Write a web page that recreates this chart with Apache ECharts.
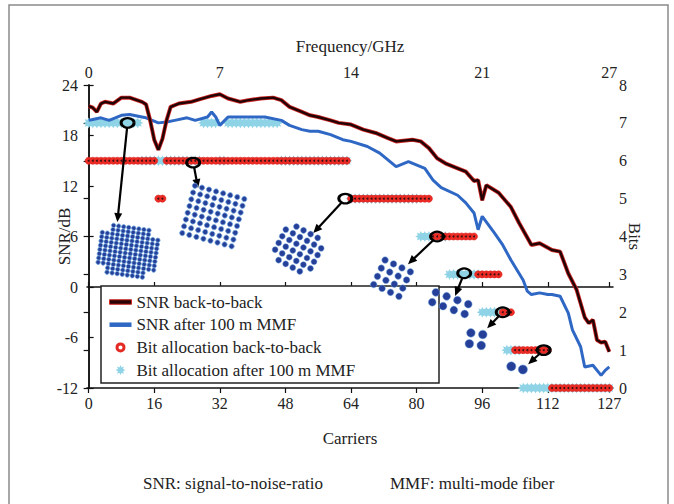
<!DOCTYPE html>
<html><head><meta charset="utf-8">
<script src="https://cdn.jsdelivr.net/npm/echarts@6/dist/echarts.min.js"></script>
<style>html,body{margin:0;padding:0;background:#fff}#c{width:674px;height:504px}</style>
</head><body><div id="c"></div>
<script>
// ---- data ----
const carrierTicks = [0, 16, 32, 48, 64, 80, 96, 112, 127];
const freqTickCarriers = [0, 32, 64, 96, 127];
const freqLabels = ['0', '7', '14', '21', '27'];

const snrB2B = [
  [0,21.5],[1,21.3],[2,20.8],[3,21.8],[4,22.0],[6,21.8],[8,22.5],[10,22.5],[13,22.0],[14,21.7],
  [15,19.8],[16,17.5],[17,16.3],[18,17.6],[19,19.8],[20,21.4],[22,21.8],[25,22.0],[27,22.3],[30,22.7],
  [32,22.9],[34,22.4],[37,22.0],[39,22.2],[42,22.4],[45,22.5],[47,22.2],[49,21.4],[52,20.8],[54,20.4],
  [56,20.2],[59,19.8],[61,19.5],[64,19.3],[67,18.7],[70,18.3],[73,17.7],[75,17.3],[79,17.5],[81,17.3],
  [83,16.5],[85,15.3],[87,14.7],[90,14.1],[92,13.7],[94,12.6],[95,12.7],[96,10.3],[97,12.1],[100,11.2],
  [103,9.5],[105,7.6],[108,5.0],[110,5.2],[113,4.4],[115,4.2],[117,1.6],[119,-0.3],[121,-3.6],[122,-4.3],
  [123,-3.9],[124,-6.3],[125,-6.6],[126,-6.5],[127,-7.7]
];
const snrMMF = [
  [0,19.8],[1,19.9],[3,20.1],[5,19.8],[8,20.4],[10,20.5],[13,20.2],[14,20.1],[17,19.5],[19,19.6],
  [21,19.8],[24,20.1],[26,19.8],[29,20.2],[30,20.8],[31,20.2],[32,19.2],[34,20.2],[37,20.2],[40,20.2],
  [43,20.2],[47,19.8],[49,19.2],[52,18.7],[54,18.5],[56,18.5],[59,18.1],[62,17.5],[64,17.3],[68,16.7],
  [71,15.9],[75,14.3],[78,14.9],[82,14.1],[84,12.7],[86,11.8],[90,10.9],[92,10.0],[94,8.8],[95,6.8],
  [96,8.4],[99,6.4],[101,5.0],[103,3.2],[106,0.8],[107,-0.5],[108,-0.9],[110,-0.7],[112,-0.9],[113,-0.9],
  [115,-1.1],[117,-3.1],[118,-5.1],[120,-7.1],[121,-9.5],[123,-9.3],[125,-10.5],[126,-9.9],[127,-9.5]
];
// bits per carrier 0..127
const bitsB2B = [
  6,6,6,6,6,6,6,6,6,6,6,6,6,6,6,6,
  6,5,5,6,6,6,6,6,6,6,6,6,6,6,6,6,
  6,6,6,6,6,6,6,6,6,6,6,6,6,6,6,6,
  6,6,6,6,6,6,6,6,6,6,6,6,6,6,6,6,
  5,5,5,5,5,5,5,5,5,5,5,5,5,5,5,5,
  5,5,5,5,4,4,4,4,4,4,4,4,4,4,4,3,
  3,3,3,3,3,2,2,2,1,1,1,1,1,1,1,1,
  1,0,0,0,0,0,0,0,0,0,0,0,0,0,0,0
];
const bitsMMF = [
  7,7,7,7,7,7,7,7,7,7,7,7,7,6,6,6,
  6,6,6,6,6,6,6,6,6,6,6,6,7,7,7,7,
  6,6,7,7,7,7,7,7,7,7,7,7,7,7,7,6,
  6,6,6,6,6,6,6,6,6,6,6,6,6,6,6,6,
  5,5,5,5,5,5,5,5,5,5,5,5,5,5,5,5,
  5,4,4,4,4,4,4,4,3,3,3,3,3,3,3,3,
  2,2,2,2,2,2,1,1,1,1,0,0,0,0,0,0,
  0,0,0,0,0,0,0,0,0,0,0,0,0,0,0,0
];
// annotations: [carrier, bits]
const ringAnchors = [[9.5,7],[25.5,5.95],[62.6,5],[85,4],[91.6,3.03],[101,2],[111,1]];
const arrowTips   = [[7,4.38],[26.7,5.28],[54.8,4.09],[77.9,3.27],[89.4,2.43],[97.2,1.58],[107.2,0.63]];
const constCenters = [[9.6,3.61],[30.4,4.54],[51.1,3.67],[74,2.9],[88.2,2.24],[94.5,1.29],[104.5,0.53]];
const constOrders = [128, 64, 32, 16, 8, 4, 2];

// ---- styles ----
const FONT = "'Liberation Serif', 'DejaVu Serif', serif";
const constStyle = {
  128: {rows: 12, cols: 12, spX: 5.1, spY: 4.3, r: 2.2, rot: 8, cross: 2},
  64:  {rows: 8, cols: 8, spX: 7.3, spY: 7.0, r: 2.6, rot: 15, cross: 0},
  32:  {rows: 6, cols: 6, spX: 8.0, spY: 7.6, r: 3.0, rot: 28, cross: 1},
  16:  {rows: 4, cols: 4, spX: 9.3, spY: 9.0, r: 3.3, rot: 25, cross: 0},
  8:   {rows: 2, cols: 4, spX: 11.5, spY: 10.5, r: 3.9, rot: 20, cross: 0},
  4:   {rows: 2, cols: 2, spX: 12, spY: 11, r: 4.3, rot: 8, cross: 0},
  2:   {rows: 1, cols: 2, spX: 12, spY: 12, r: 4.6, rot: 15, cross: 0}
};
function starPath(n, rIn) {
  let d = '';
  for (let k = 0; k < 2 * n; k++) {
    const a = Math.PI * k / n - Math.PI / 2;
    const r = k % 2 ? rIn : 1;
    d += (k ? 'L' : 'M') + (50 + 50 * r * Math.cos(a)).toFixed(2) + ' ' + (50 + 50 * r * Math.sin(a)).toFixed(2);
  }
  return 'path://' + d + 'Z';
}
const STAR = starPath(8, 0.55);
const BAR = 'path://M0 0L22 0L22 4.5L0 4.5Z';
const RING = 'path://M0 50A50 50 0 1 0 100 50A50 50 0 1 0 0 50ZM30 50A20 20 0 1 1 70 50A20 20 0 1 1 30 50Z';

const chart = echarts.init(document.getElementById('c'), null, {renderer: 'svg'});
const axisLine = {show: true, lineStyle: {color: '#111', width: 1.5}};
const tickStyle = {color: '#111', width: 1.2};
const labelStyle = {fontFamily: FONT, fontSize: 16, color: '#222'};
const nameStyle = {fontFamily: FONT, fontSize: 17, color: '#222'};

const option = {
  animation: false,
  backgroundColor: '#fff',
  textStyle: {fontFamily: FONT},
  grid: {left: 87, right: 61, top: 85, bottom: 116, containLabel: false, outerBoundsMode: 'none'},
  xAxis: [
    {type: 'value', position: 'bottom', min: -0.4, max: 127.9,
     axisLine, splitLine: {show: false},
     axisTick: {inside: true, length: 5, customValues: carrierTicks, lineStyle: tickStyle},
     axisLabel: Object.assign({customValues: carrierTicks, margin: 7}, labelStyle),
     name: 'Carriers', nameLocation: 'middle', nameGap: 42, nameMoveOverlap: false, nameTextStyle: nameStyle},
    {type: 'value', position: 'top', min: -0.4, max: 127.9,
     axisLine, splitLine: {show: false},
     axisTick: {inside: true, length: 5, customValues: carrierTicks, lineStyle: tickStyle},
     axisLabel: Object.assign({customValues: freqTickCarriers, margin: 5,
       formatter: v => freqLabels[freqTickCarriers.indexOf(Math.round(v))]}, labelStyle),
     name: 'Frequency/GHz', nameLocation: 'middle', nameGap: 30, nameMoveOverlap: false, nameTextStyle: nameStyle}
  ],
  yAxis: [
    {type: 'value', position: 'left', min: -12, max: 24, interval: 6,
     axisLine, splitLine: {show: false},
     axisTick: {inside: true, length: 5, lineStyle: tickStyle},
     axisLabel: Object.assign({margin: 9}, labelStyle),
     name: 'SNR/dB', nameLocation: 'middle', nameGap: 14, nameMoveOverlap: false, nameTextStyle: nameStyle},
    {type: 'value', position: 'right', min: 0, max: 8, interval: 1,
     axisLine, splitLine: {show: false},
     axisTick: {inside: true, length: 5, lineStyle: tickStyle},
     axisLabel: Object.assign({margin: 6}, labelStyle),
     name: 'Bits', nameLocation: 'middle', nameGap: 13, nameRotate: -90, nameMoveOverlap: false, nameTextStyle: nameStyle}
  ],
  legend: {
    orient: 'vertical', left: 104, top: 288, itemWidth: 22, itemHeight: 10, itemGap: 4.7,
    selectedMode: false, z: 8, symbolKeepAspect: true,
    data: [
      {name: 'SNR back-to-back', icon: BAR, itemStyle: {color: '#2a0505', borderColor: '#cf2626', borderWidth: 1}},
      {name: 'SNR after 100 m MMF', icon: BAR, itemStyle: {color: '#2f68c4', borderWidth: 0}},
      {name: 'Bit allocation back-to-back', icon: RING, itemStyle: {color: '#e52a24', borderWidth: 0}},
      {name: 'Bit allocation after 100 m MMF', icon: STAR, itemStyle: {color: '#8fd3e6', borderWidth: 0}}
    ],
    textStyle: {fontFamily: FONT, fontSize: 17, color: '#222', lineHeight: 18}
  },
  graphic: [
    {type: 'rect', z: 1, shape: {x: 9, y: 5, width: 659, height: 520},
     style: {fill: 'none', stroke: '#8a8a8a', lineWidth: 1.5}},
    {type: 'rect', z: 7, shape: {x: 101, y: 286, width: 338, height: 97},
     style: {fill: '#fff', stroke: '#222', lineWidth: 1.5}},
    {type: 'text', z: 7, x: 143, y: 483, style: {text: 'SNR: signal-to-noise-ratio', font: "17px 'Liberation Serif', serif", fill: '#222', verticalAlign: 'middle'}},
    {type: 'text', z: 7, x: 390, y: 483, style: {text: 'MMF: multi-mode fiber', font: "17px 'Liberation Serif', serif", fill: '#222', verticalAlign: 'middle'}}
  ],
  series: [
    {name: 'Bit allocation after 100 m MMF', type: 'scatter', xAxisIndex: 0, yAxisIndex: 1, z: 2,
     symbol: STAR, symbolSize: 11, itemStyle: {color: '#8fd3e6', opacity: 1},
     data: bitsMMF.map((b, i) => [i, b])},
    {name: 'Bit allocation back-to-back', type: 'scatter', xAxisIndex: 0, yAxisIndex: 1, z: 2,
     symbol: 'circle', symbolSize: 7, itemStyle: {color: '#ee2c26', borderColor: '#d81f1a', borderWidth: 0.6, opacity: 1},
     data: bitsB2B.map((b, i) => [i, b])},
    {name: 'b2bCenters', type: 'scatter', xAxisIndex: 0, yAxisIndex: 1, z: 2, silent: true,
     symbol: 'circle', symbolSize: 2, itemStyle: {color: '#3a1212', opacity: 1},
     data: bitsB2B.map((b, i) => [i, b])},
    {name: 'SNR after 100 m MMF', type: 'line', xAxisIndex: 0, yAxisIndex: 0, z: 3,
     symbol: 'none', showSymbol: false, lineStyle: {color: '#2f68c4', width: 3}, itemStyle: {color: '#2f68c4'},
     data: snrMMF},
    {name: 'b2bHalo', type: 'line', xAxisIndex: 0, yAxisIndex: 0, z: 3, silent: true,
     symbol: 'none', showSymbol: false, lineStyle: {color: '#cf2626', width: 4},
     data: snrB2B},
    {name: 'SNR back-to-back', type: 'line', xAxisIndex: 0, yAxisIndex: 0, z: 4,
     symbol: 'none', showSymbol: false, lineStyle: {color: '#220404', width: 2.4}, itemStyle: {color: '#220404'},
     data: snrB2B},
    {name: 'arrows', type: 'custom', xAxisIndex: 0, yAxisIndex: 1, z: 9, silent: true,
     encode: {x: [0, 2], y: [1, 3]},
     data: ringAnchors.map((a, i) => [a[0], a[1], arrowTips[i][0], arrowTips[i][1]]),
     renderItem: function (params, api) {
       const p0 = api.coord([api.value(0), api.value(1)]);
       const p1 = api.coord([api.value(2), api.value(3)]);
       const dx = p1[0] - p0[0], dy = p1[1] - p0[1], L = Math.hypot(dx, dy);
       const ux = dx / L, uy = dy / L;
       const st = [p0[0] + ux * 5, p0[1] + uy * 5];
       const head = 9, hw = 4;
       const base = [p1[0] - ux * head, p1[1] - uy * head];
       return {type: 'group', children: [
         {type: 'circle', x: p0[0], y: p0[1], scaleX: 1.3, scaleY: 0.95, shape: {cx: 0, cy: 0, r: 5},
          style: {fill: 'none', stroke: '#000', lineWidth: 2.3}},
         {type: 'line', shape: {x1: st[0], y1: st[1], x2: base[0] + ux, y2: base[1] + uy},
          style: {stroke: '#000', lineWidth: 2.2}},
         {type: 'polygon', shape: {points: [[p1[0], p1[1]], [base[0] - uy * hw, base[1] + ux * hw], [base[0] + uy * hw, base[1] - ux * hw]]},
          style: {fill: '#000'}}
       ]};
     }},
    {name: 'constellations', type: 'custom', xAxisIndex: 0, yAxisIndex: 1, z: 9, silent: true,
     encode: {x: 0, y: 1},
     data: constCenters.map((c, i) => [c[0], c[1], constOrders[i]]),
     renderItem: function (params, api) {
       const c = api.coord([api.value(0), api.value(1)]);
       const s = constStyle[api.value(2)];
       const a = s.rot * Math.PI / 180, ca = Math.cos(a), sa = Math.sin(a);
       const children = [];
       for (let i = 0; i < s.rows; i++) {
         for (let j = 0; j < s.cols; j++) {
           const ci = s.cross;
           if (ci && (i < ci || i >= s.rows - ci) && (j < ci || j >= s.cols - ci)) continue;
           const u = (j - (s.cols - 1) / 2) * s.spX, v = (i - (s.rows - 1) / 2) * s.spY;
           children.push({type: 'circle', shape: {cx: c[0] + u * ca - v * sa, cy: c[1] + u * sa + v * ca, r: s.r},
             style: {fill: '#263f99', stroke: '#6fa6de', lineWidth: s.r < 3 ? 0.8 : 0.5}});
         }
       }
       return {type: 'group', children};
     }}
  ]
};
chart.setOption(option);
</script>
</body></html>
